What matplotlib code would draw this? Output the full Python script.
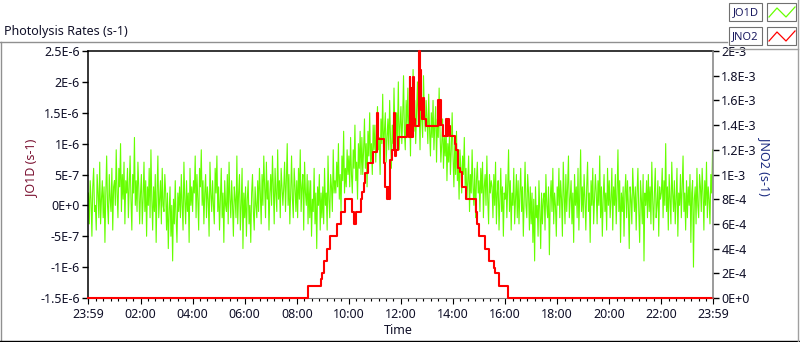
import numpy as np
import matplotlib.pyplot as plt
from matplotlib.patches import Rectangle
from matplotlib.lines import Line2D

plt.rcParams['font.family'] = ['Noto Sans', 'DejaVu Sans']

#####   Dati   #####
# JO1D: un campione ogni 2 minuti, in unita' di 1e-7 s-1 (una riga = mezz'ora)
jo1d_rows = [
    [2, -3, 4, 1, -5, 3, 6, -1, 0, -4, 5, 2, -2, 7, -3],
    [1, 4, -2, 3, -6, 2, 8, 0, -3, 5, 1, -1, 6, -4, 3],
    [4, 0, 9, 2, -2, 6, 3, 10, -1, 5, 1, 7, -3, 4, 2],
    [6, -2, 3, 8, 1, -4, 5, 2, 11, 0, 4, -1, 7, 3, -3],
    [2, 5, -3, 1, 7, -1, 4, -5, 3, 0, 6, -2, 9, 1, -4],
    [3, -1, 5, -6, 2, 8, -2, 1, 4, -3, 6, 0, -1, 5, 2],
    [-4, 2, -7, -1, 3, -5, 0, -9, 1, -3, 4, -2, -6, 2, -1],
    [3, -2, 5, 0, -4, 7, 1, -3, 4, -1, 2, -6, 6, 0, 3],
    [-1, 4, 2, 8, -2, 5, 1, -4, 6, 3, 9, 0, 4, -3, 2],
    [5, -2, 3, 1, -5, 7, 2, -1, 4, 0, -3, 6, 2, 8, -1],
    [3, -4, 1, 6, -2, 2, -6, 4, 0, -1, 5, -3, 7, 1, -2],
    [4, 0, -5, 3, 1, -2, 8, -3, 2, 5, -4, 0, 6, -7, 2],
    [-2, 3, -5, 1, 4, -3, 0, -6, 2, 5, -1, -4, 3, 0, -2],
    [4, -1, 6, 2, -3, 5, 0, 8, 3, -2, 7, 1, 4, -4, 2],
    [5, 0, 8, 3, -3, 6, 2, -1, 9, 1, 4, -2, 6, 3, 0],
    [3, 7, -1, 4, 10, 0, 5, -3, 2, 8, 1, -2, 6, 3, -1],
    [4, -2, 6, 1, 9, -1, 3, 5, -4, 7, 2, 0, 5, -3, 4],
    [-2, 4, -5, 1, -1, 6, -3, 2, -7, 3, 0, 5, -4, 2, -2],
    [3, -3, 6, 0, 2, -4, 8, 1, -2, 5, 3, -1, 9, 2, 4],
    [2, 7, 3, 10, 1, 5, -1, 8, 4, 12, 2, 6, 3, 9, 5],
    [8, 3, 11, 5, 2, 9, 6, 13, 4, 7, 1, 10, 6, 12, 5],
    [11, 5, 9, 14, 6, 10, 3, 12, 8, 15, 7, 10, 5, 13, 9],
    [13, 7, 12, 16, 9, 11, 5, 14, 10, 18, 8, 12, 15, 7, 11],
    [14, 9, 17, 11, 6, 13, 10, 19, 12, 8, 15, 11, 20, 9, 13],
    [16, 10, 14, 21, 12, 9, 17, 13, 19, 11, 15, 8, 18, 13, 22],
    [12, 17, 10, 15, 20, 13, 16, 9, 18, 14, 11, 21, 15, 12, 17],
    [14, 10, 18, 12, 8, 15, 11, 17, 9, 13, 16, 7, 14, 11, 19],
    [12, 7, 10, 14, 6, 11, 8, 13, 4, 10, 7, 12, 5, 9, 15],
    [8, 3, 10, 5, 12, 4, 7, 1, 9, 6, 2, 8, 5, 11, 3],
    [6, 1, 4, 8, -1, 5, 2, 9, 3, 0, 6, -2, 4, 7, 2],
    [4, -1, 6, 2, 7, -2, 3, 5, 0, 8, 1, -3, 5, 2, 4],
    [3, -2, 5, 0, 7, -3, 2, 4, -4, 1, 6, -1, 3, -5, 2],
    [1, 5, -2, 3, 9, -1, 4, -4, 2, 0, 6, -3, 1, 5, -2],
    [4, -3, 2, 6, -1, 3, -5, 1, 7, 0, -2, 5, 2, -4, 3],
    [-3, 2, -6, 1, -9, 3, -2, 0, -5, 4, -1, -7, 2, -3, 1],
    [2, -4, 5, 0, -2, 3, -8, 1, 4, -1, 6, -3, 2, 0, -5],
    [3, 0, 6, -2, 4, 1, -5, 7, 2, -3, 5, -1, 3, 8, -2],
    [1, 4, -3, 2, -6, 5, 0, 3, -2, 6, -4, 2, 9, -1, 3],
    [-2, 5, 1, -4, 3, 7, -1, 2, -6, 4, 0, 6, -3, 1, 5],
    [2, -3, 4, 0, 8, -2, 3, -5, 1, 5, -1, 2, -4, 6, 0],
    [4, -2, 1, 6, -4, 3, 0, 5, -3, 2, 9, -1, 4, -6, 2],
    [-1, 3, -5, 2, 5, -2, 4, 0, -7, 3, 1, -3, 6, 2, -1],
    [3, -4, 2, 6, -1, -6, 4, 1, -3, 5, -9, 2, 0, 4, -2],
    [5, -1, 3, -3, 7, 1, -4, 2, 6, -2, 0, 4, -5, 3, 1],
    [2, 6, -2, 4, 0, 10, -1, 3, -4, 5, 1, -3, 7, 2, -1],
    [4, -3, 1, 6, -5, 2, 0, 5, -2, 3, 8, -1, 2, -4, 4],
    [-2, 3, 0, 5, -6, 2, 4, -10, 1, 3, -3, 6, 0, -2, 5],
    [3, -1, 6, 2, -4, 4, 0, 7, -2, 3, 1, -3, 5, 2, 9],
]
jo1d = np.concatenate([np.array(r, dtype=float) for r in jo1d_rows]) * 1e-7
jo1d_t = np.arange(jo1d.size) * 2  # minuti dalla mezzanotte

# JNO2 a gradini: istanti (minuti) e valori in unita' di 1e-4 s-1
jno2_t = [0, 505, 536, 538, 542, 549, 557, 572, 581, 591, 607, 613, 617, 627, 630,
          634, 637, 644, 655, 666, 668, 682, 684, 689, 691, 693, 695, 700, 704, 706,
          709, 713, 724, 733, 738, 740, 742, 744, 746, 748, 750, 753, 761, 763, 766,
          768, 771, 774, 778, 805, 808, 810, 813, 817, 824, 826, 828, 830, 832, 844,
          848, 851, 855, 861, 871, 892, 896, 901, 913, 923, 934, 937, 947, 966, 1439]
jno2_v = [0, 1, 1.5, 2, 3, 4, 5, 6, 7, 8, 7, 6, 7, 8, 8.6,
          9.3, 10.1, 10.9, 11.8, 15, 12.9, 10.9, 9, 8, 9, 8, 11.2, 12, 15, 11.5,
          12, 13, 13, 14, 13, 17.9, 13, 17, 13, 17.9, 14.5, 13.9, 20, 18.5, 15.2,
          14.5, 16.2, 14.5, 13.9, 16, 14, 16, 14, 13.1, 14.5, 13.1, 14.5, 13.9, 13.1, 12.5,
          12, 10.5, 10.2, 9, 8, 7, 6, 5, 4, 3, 2.4, 2, 1, 0, 0]
jno2 = np.array(jno2_v) * 1e-4

x_ticks = [-1, 120, 240, 360, 480, 600, 720, 840, 960, 1080, 1200, 1320, 1439]
x_labels = ['23:59', '02:00', '04:00', '06:00', '08:00', '10:00', '12:00',
            '14:00', '16:00', '18:00', '20:00', '22:00', '23:59']
left_ticks = [-1.5e-6, -1e-6, -5e-7, 0, 5e-7, 1e-6, 1.5e-6, 2e-6, 2.5e-6]
left_labels = ['-1.5E-6', '-1E-6', '-5E-7', '0E+0', '5E-7', '1E-6', '1.5E-6', '2E-6', '2.5E-6']
right_ticks = [0, 2e-4, 4e-4, 6e-4, 8e-4, 1e-3, 1.2e-3, 1.4e-3, 1.6e-3, 1.8e-3, 2e-3]
right_labels = ['0E+0', '2E-4', '4E-4', '6E-4', '8E-4', '1E-3', '1.2E-3', '1.4E-3',
                '1.6E-3', '1.8E-3', '2E-3']

GREEN = '#66ff00'
RED = '#ff0000'
TXT = '#101028'
W, H = 800, 342

fig = plt.figure(figsize=(8, 3.42), dpi=100)
fig.patch.set_facecolor('white')

ax = fig.add_axes([88 / W, 1 - 298 / H, 625 / W, 247 / H])
ax.plot(jo1d_t, jo1d, color=GREEN, lw=0.8)
ax.set_xlim(-1, 1439)
ax.set_ylim(-1.5e-6, 2.5e-6)
ax.set_xticks(x_ticks)
ax.set_xticklabels(x_labels)
ax.set_xticks(np.arange(0, 1440, 120 / 7), minor=True)
ax.set_yticks(left_ticks)
ax.set_yticklabels(left_labels)
ax.tick_params(axis='y', direction='out', length=4, width=1, color='black',
               labelsize=9, labelcolor=TXT, pad=2)
ax.tick_params(axis='x', which='major', direction='out', length=4, width=0.8,
               color='black', labelsize=9, labelcolor=TXT, pad=3)
ax.tick_params(axis='x', which='minor', direction='out', length=2.5, width=0.8, color='black')
ax.spines['top'].set_color('black')
ax.spines['left'].set_color('black')
ax.spines['bottom'].set_color('#808080')
ax.spines['right'].set_visible(False)
for s in ['top', 'left']:
    ax.spines[s].set_linewidth(1.1)

ax2 = ax.twinx()
ax2.step(jno2_t, jno2, where='post', color=RED, lw=1.5, clip_on=False)
ax2.set_ylim(0, 2e-3)
ax2.set_yticks(right_ticks)
ax2.set_yticklabels(right_labels)
ax2.tick_params(axis='y', direction='out', length=4, width=1, color='black',
                labelsize=9, labelcolor=TXT, pad=2)
for s in ['top', 'left', 'bottom']:
    ax2.spines[s].set_visible(False)
ax2.spines['right'].set_color('#808080')
ax2.spines['right'].set_linewidth(1.1)

# testi
fig.text(4 / W, 1 - 31 / H, 'Photolysis Rates (s-1)', ha='left', va='center',
         fontsize=9, color=TXT)
fig.text(398 / W, 1 - 330 / H, 'Time', ha='center', va='center', fontsize=9, color=TXT)
fig.text(32 / W, 1 - 168 / H, 'JO1D (s-1)', ha='center', va='center', rotation=90,
         fontsize=9, color='#7a1030')
fig.text(765 / W, 1 - 166 / H, 'JNO2 (s-1)', ha='center', va='center', rotation=270,
         fontsize=9, color='#1a2a80')

# cornice e legenda (coordinate in pixel)
ov = fig.add_axes([0, 0, 1, 1], zorder=5)
ov.set_xlim(0, W)
ov.set_ylim(H, 0)
ov.axis('off')
ov.patch.set_alpha(0)
ov.add_line(Line2D([0, 727], [42, 42], color='#909090', lw=1))
ov.add_line(Line2D([0.5, 0.5], [42, H], color='#909090', lw=1))
ov.add_line(Line2D([0, W], [341, 341], color='black', lw=1))
ov.add_line(Line2D([797.5, 797.5], [0, 341], color='#a0a0a0', lw=1))
ov.add_line(Line2D([727, 798], [48.5, 48.5], color='#a0a0a0', lw=1))

for i, (name, col) in enumerate([('JO1D', GREEN), ('JNO2', RED)]):
    y0 = 3 + 24 * i
    ov.add_patch(Rectangle((729, y0), 33, 18, facecolor='white', edgecolor='#707070', lw=0.8))
    ov.add_patch(Rectangle((767, y0), 29, 18, facecolor='white', edgecolor='#707070', lw=0.8))
    ov.text(745.5, y0 + 9.5, name, ha='center', va='center', fontsize=8, color='#1a1a60')
    ov.add_line(Line2D([769, 777, 786, 795], [y0 + 14, y0 + 5, y0 + 14, y0 + 4],
                       color=col, lw=0.9))

fig.savefig('out.png', dpi=100)
